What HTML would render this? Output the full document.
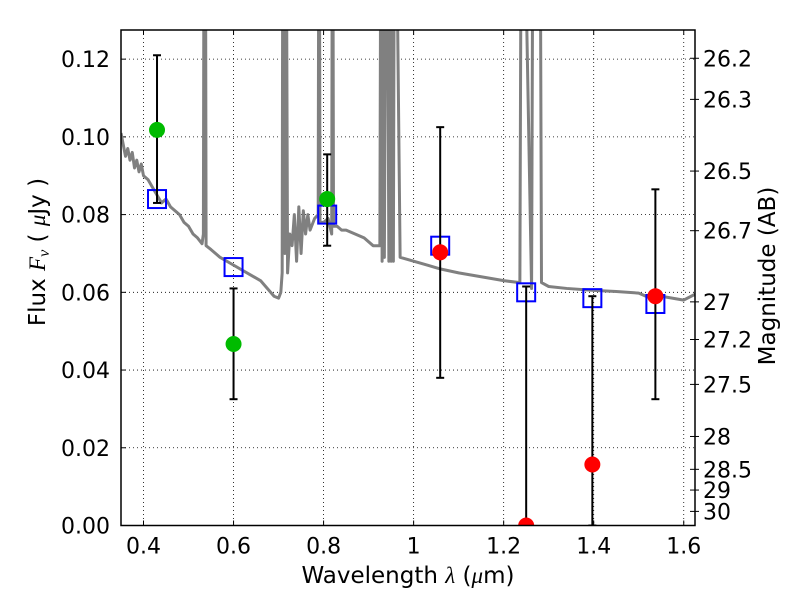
<!DOCTYPE html>
<html><head><meta charset="utf-8"><style>
body{margin:0;background:#fff;font-family:"DejaVu Sans","Liberation Sans",sans-serif}
svg text{font-family:"DejaVu Sans","Liberation Sans",sans-serif}
</style></head><body>
<svg id="c" width="800" height="600" xmlns="http://www.w3.org/2000/svg"></svg>
<script>
const specX=[0.35,0.355,0.36,0.365,0.37,0.375,0.38,0.385,0.39,0.395,0.4,0.41,0.42,0.43,0.44,0.45,0.46,0.47,0.48,0.49,0.5,0.51,0.52,0.53,0.533,0.535,0.537,0.539,0.55,0.57,0.6,0.63,0.66,0.69,0.7,0.705,0.708,0.71,0.712,0.714,0.716,0.72,0.725,0.73,0.735,0.74,0.745,0.75,0.755,0.76,0.765,0.77,0.78,0.788,0.79,0.792,0.8,0.81,0.818,0.82,0.822,0.83,0.84,0.85,0.87,0.89,0.91,0.925,0.928,0.93,0.932,0.935,0.94,0.945,0.948,0.95,0.953,0.955,0.958,0.97,1.0,1.03,1.06,1.1,1.15,1.2,1.236,1.24,1.262,1.266,1.28,1.284,1.3,1.34,1.4,1.45,1.5,1.52,1.55,1.6,1.625];
const specY=[0.101,0.098,0.095,0.097,0.094,0.096,0.092,0.094,0.091,0.093,0.09,0.089,0.087,0.085,0.083,0.084,0.082,0.081,0.08,0.078,0.077,0.075,0.074,0.0725,0.075,0.2,0.2,0.072,0.071,0.069,0.067,0.065,0.063,0.059,0.0585,0.06,0.065,0.2,0.2,0.07,0.2,0.065,0.075,0.072,0.08,0.068,0.082,0.07,0.081,0.075,0.08,0.076,0.079,0.08,0.2,0.078,0.078,0.079,0.075,0.2,0.077,0.077,0.076,0.076,0.075,0.074,0.072,0.072,0.2,0.068,0.2,0.069,0.2,0.068,0.2,0.068,0.2,0.068,0.2,0.069,0.068,0.067,0.066,0.065,0.064,0.063,0.0625,0.2,0.061,0.2,0.2,0.0625,0.0615,0.061,0.0605,0.0602,0.0598,0.0588,0.059,0.058,0.0595];
const photX=[0.43,0.6,0.808,1.059,1.25,1.397,1.537];
const photFlux=[0.1018,0.0467,0.084,0.0703,0.0,0.0157,0.059];
const photLo=[0.083,0.0325,0.072,0.038,0.0,0.0,0.0325];
const photHi=[0.121,0.061,0.0955,0.1025,0.0615,0.059,0.0865];
const photColor=['#00bb00','#00bb00','#00bb00','#ff0000','#ff0000','#ff0000','#ff0000'];
const modelFlux=[0.084,0.0665,0.080,0.072,0.060,0.0585,0.057];
const xTicks=[0.4,0.6,0.8,1.0,1.2,1.4,1.6];
const xTickLabels=['0.4','0.6','0.8','1','1.2','1.4','1.6'];
const yTicks=[0,0.02,0.04,0.06,0.08,0.10,0.12];
const yTickLabels=['0.00','0.02','0.04','0.06','0.08','0.10','0.12'];
const magTicks=[26.2,26.3,26.5,26.7,27,27.2,27.5,28,28.5,29,30];

const L=121,R=695,T=30,B=525.5,X0=0.35,X1=1.625,Y0=0,Y1=0.1275;
const sx=v=>L+(v-X0)/(X1-X0)*(R-L);
const sy=v=>B-(v-Y0)/(Y1-Y0)*(B-T);
const svg=document.getElementById('c');
const NS='http://www.w3.org/2000/svg';
function mk(t,a,p){const e=document.createElementNS(NS,t);for(const k in a)e.setAttribute(k,a[k]);(p||svg).appendChild(e);return e;}

const defs=mk('defs',{});const cp=mk('clipPath',{id:'cp'},defs);mk('rect',{x:L,y:T,width:R-L,height:B-T},cp);

xTicks.forEach((v,i)=>{
 const g=mk('line',{x1:sx(v),x2:sx(v),y1:T,y2:B,stroke:'#000','stroke-width':0.8,'stroke-dasharray':'1,3'});
 
 
 mk('line',{x1:sx(v),x2:sx(v),y1:B,y2:B-5,stroke:'#000'});
 mk('line',{x1:sx(v),x2:sx(v),y1:T,y2:T+5,stroke:'#000'});
 const t=mk('text',{x:sx(v),y:B+28,'text-anchor':'middle','font-size':22});t.textContent=xTickLabels[i];
 
 
});
yTicks.forEach((v,i)=>{
 if(v>0){const g=mk('line',{x1:L,x2:R,y1:sy(v),y2:sy(v),stroke:'#000','stroke-width':0.8,'stroke-dasharray':'1,3'});
 
 }
 mk('line',{x1:L,x2:L+5,y1:sy(v),y2:sy(v),stroke:'#000'});
 const t=mk('text',{x:L-11,y:sy(v)+8,'text-anchor':'end','font-size':22});t.textContent=yTickLabels[i];
 
 
});
magTicks.forEach(m=>{
 const f=Math.pow(10,(23.9-m)/2.5);const y=sy(f);
 mk('line',{x1:R,x2:R-5,y1:y,y2:y,stroke:'#000'});
 mk('line',{x1:R,x2:R+4,y1:y,y2:y,stroke:'#000'});
 const t=mk('text',{x:R+8,y:y+8,'font-size':22});t.textContent=String(m);
 
 
});

const sp=mk('polyline',{points:specX.map((x,i)=>sx(x)+','+sy(specY[i])).join(' '),fill:'none',stroke:'#808080','stroke-width':3,'clip-path':'url(#cp)','stroke-linejoin':'round'});



modelFlux.forEach((f,i)=>{
 const r=mk('rect',{x:sx(photX[i])-9,y:sy(f)-9,width:18,height:18,fill:'none',stroke:'#0000ff','stroke-width':2});
 
 
});
photX.forEach((x,i)=>{
 const g=mk('g',{'clip-path':'url(#cp)'});
 
 
 const X=sx(x);
 mk('line',{x1:X,x2:X,y1:sy(photLo[i]),y2:sy(photHi[i]),stroke:'#000','stroke-width':2},g);
 mk('line',{x1:X-4,x2:X+4,y1:sy(photLo[i]),y2:sy(photLo[i]),stroke:'#000','stroke-width':2},g);
 mk('line',{x1:X-4,x2:X+4,y1:sy(photHi[i]),y2:sy(photHi[i]),stroke:'#000','stroke-width':2},g);
 const c=mk('circle',{cx:X,cy:sy(photFlux[i]),r:8,fill:photColor[i],'clip-path':'url(#cp)'});
 
 
});

const fr=mk('rect',{x:L,y:T,width:R-L,height:B-T,fill:'none',stroke:'#000','stroke-width':1.5});



const xl=mk('text',{x:(L+R)/2,y:583,'text-anchor':'middle','font-size':23,'xml:space':'preserve'});
xl.innerHTML='Wavelength  <tspan font-style="italic" font-family="Liberation Serif">λ</tspan> (<tspan font-style="italic" font-family="Liberation Serif">μ</tspan>m)';


const yl=mk('text',{x:0,y:0,'text-anchor':'middle','font-size':23,transform:'translate(45,252) rotate(-90)','xml:space':'preserve'});
yl.innerHTML='Flux  <tspan font-style="italic" font-family="Liberation Serif">F</tspan><tspan font-style="italic" font-family="Liberation Serif" font-size="16" dy="4">ν</tspan><tspan dy="-4">  (  </tspan><tspan font-style="italic" font-family="Liberation Serif">μ</tspan>Jy )';


const yr=mk('text',{x:0,y:0,'text-anchor':'middle','font-size':23,transform:'translate(775,276) rotate(-90)'});
yr.textContent='Magnitude (AB)';


</script>
</body></html>
